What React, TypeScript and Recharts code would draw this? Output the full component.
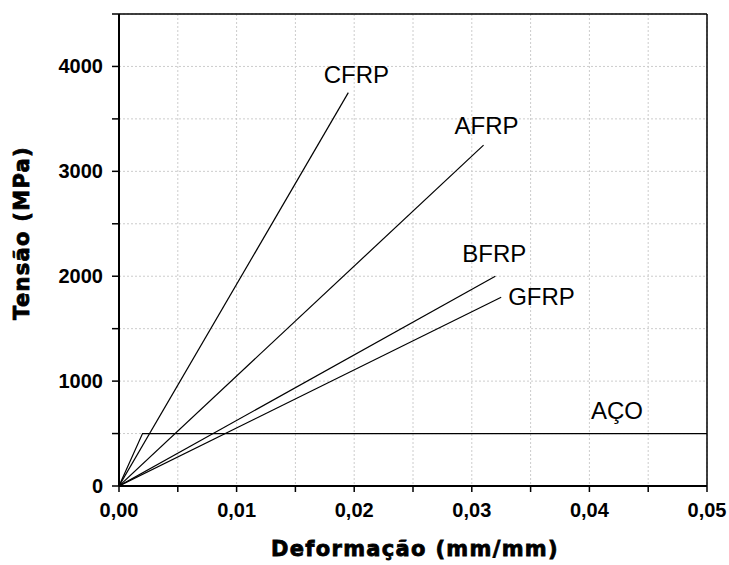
import { CartesianGrid, Line, LineChart, ReferenceLine, XAxis, YAxis } from "recharts";

// stress-strain curves (strain mm/mm, stress MPa)
const cfrp = [
  { x: 0, y: 0 },
  { x: 0.0195, y: 3750 },
];
const afrp = [
  { x: 0, y: 0 },
  { x: 0.031, y: 3250 },
];
const bfrp = [
  { x: 0, y: 0 },
  { x: 0.032, y: 2000 },
];
const gfrp = [
  { x: 0, y: 0 },
  { x: 0.0325, y: 1800 },
];
const aco = [
  { x: 0, y: 0 },
  { x: 0.002, y: 500 },
  { x: 0.05, y: 500 },
];

const xTicks = [0, 0.005, 0.01, 0.015, 0.02, 0.025, 0.03, 0.035, 0.04, 0.045, 0.05];
const yTicks = [0, 500, 1000, 1500, 2000, 2500, 3000, 3500, 4000, 4500];

const tickFamily = "'Liberation Sans', Arial, sans-serif";
const titleFont = {
  fontFamily: "'DejaVu Sans', sans-serif",
  fontWeight: 700,
  fontSize: 21,
  letterSpacing: 1.3,
  fill: "#000",
  stroke: "#000",
  strokeWidth: 0.8,
};

const endLabel =
  (name: string, last: number, dx: number, dy: number, anchor: string = "middle") =>
  (props: any) => {
    if (props.index !== last) return null;
    return (
      <text
        key={name}
        x={props.x + dx}
        y={props.y + dy}
        textAnchor={anchor}
        fontFamily={tickFamily}
        fontSize={24}
        fill="#000"
      >
        {name}
      </text>
    );
  };

const fmtX = (v: number) => {
  const k = Math.round(v * 1000);
  return k % 10 === 0 ? v.toFixed(2).replace(".", ",") : "";
};
const fmtY = (v: number) => (v % 1000 === 0 && v <= 4000 ? String(v) : "");

const XTick = (props: any) => {
  const { x, y, payload } = props;
  return (
    <text x={x} y={y + 13} textAnchor="middle" fontFamily={tickFamily} fontWeight={700} fontSize={20} fill="#000">
      {fmtX(payload.value)}
    </text>
  );
};

const YTick = (props: any) => {
  const { x, y, payload } = props;
  return (
    <text x={x} y={y + 7} textAnchor="end" fontFamily={tickFamily} fontWeight={700} fontSize={20} fill="#000">
      {fmtY(payload.value)}
    </text>
  );
};

const App = () => {
  return (
    <div style={{ position: "absolute", left: 0, top: 0, width: 729, height: 565 }}>
      <LineChart width={729} height={565} margin={{ top: 14, right: 22, left: 22, bottom: 19 }}>
        <CartesianGrid strokeDasharray="2 2" stroke="#cccccc" />
        <XAxis
          type="number"
          dataKey="x"
          domain={[0, 0.05]}
          ticks={xTicks}
          height={60}
          tickSize={6}
          tickMargin={12}
          tick={<XTick />}
          axisLine={{ stroke: "#000", strokeWidth: 2 }}
          tickLine={{ stroke: "#000", strokeWidth: 1.5 }}
          allowDataOverflow
        />
        <YAxis
          type="number"
          domain={[0, 4500]}
          ticks={yTicks}
          width={97}
          tickSize={7}
          tickMargin={9}
          tick={<YTick />}
          axisLine={{ stroke: "#000", strokeWidth: 2 }}
          tickLine={{ stroke: "#000", strokeWidth: 1.5 }}
          allowDataOverflow
        />
        <ReferenceLine y={4500} stroke="#000" strokeWidth={1.5} />
        <ReferenceLine x={0.05} stroke="#000" strokeWidth={1.5} />
        <Line data={cfrp} dataKey="y" stroke="#000" strokeWidth={1.2} dot={false} isAnimationActive={false} label={endLabel("CFRP", 1, 8, -10)} />
        <Line data={afrp} dataKey="y" stroke="#000" strokeWidth={1.2} dot={false} isAnimationActive={false} label={endLabel("AFRP", 1, 3, -11)} />
        <Line data={bfrp} dataKey="y" stroke="#000" strokeWidth={1.2} dot={false} isAnimationActive={false} label={endLabel("BFRP", 1, -1, -14)} />
        <Line data={gfrp} dataKey="y" stroke="#000" strokeWidth={1.2} dot={false} isAnimationActive={false} label={endLabel("GFRP", 1, 7, 8, "start")} />
        <Line data={aco} dataKey="y" stroke="#000" strokeWidth={1.2} dot={false} isAnimationActive={false} label={endLabel("AÇO", 2, -90, -15)} />
        <text x={415} y={556} textAnchor="middle" style={titleFont}>
          Deformação (mm/mm)
        </text>
        <text x={29} y={233} textAnchor="middle" transform="rotate(-90 29 233)" style={titleFont}>
          Tensão (MPa)
        </text>
      </LineChart>
    </div>
  );
};

export default App;
